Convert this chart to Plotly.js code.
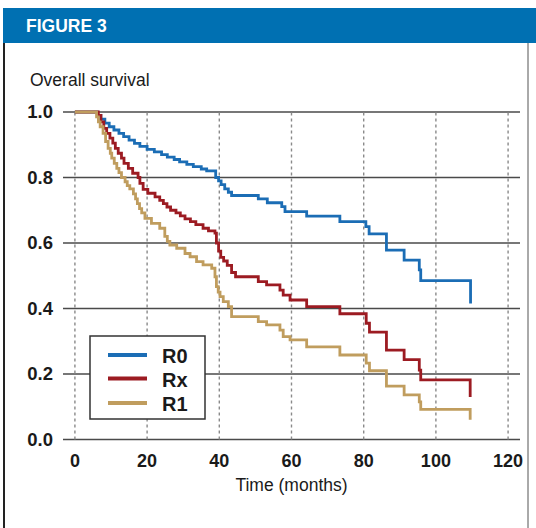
<!DOCTYPE html>
<html>
<head>
<meta charset="utf-8">
<script src="https://cdn.plot.ly/plotly-3.0.1.min.js"></script>
<style>html,body{margin:0;padding:0;background:#fff;}#chart{width:536px;height:528px;}</style>
</head>
<body>
<div id="chart"></div>
<script>
// ---- data ----
const seriesNames = ["R0", "Rx", "R1"];
const xTicks = [0, 20, 40, 60, 80, 100, 120];
const yTicks = [0.0, 0.2, 0.4, 0.6, 0.8, 1.0];
const yTickLabels = ["0.0", "0.2", "0.4", "0.6", "0.8", "1.0"];

const r0Time = [0, 6.2, 7.2, 8.3, 9.5, 10.8, 12.2, 13.5, 15.0, 16.5, 18.0, 20.0, 22.0, 24.0, 25.6, 27.5, 29.0, 31.0, 32.8, 35.0, 36.5, 39.0, 39.8, 40.5, 41.5, 42.5, 43.4, 50.8, 53.3, 57.3, 58.2, 64.2, 73.4, 80.6, 81.5, 86.3, 91.2, 95.4, 95.8, 109.6];
const r0Surv = [1.0, 0.99, 0.978, 0.966, 0.955, 0.945, 0.935, 0.925, 0.914, 0.904, 0.895, 0.886, 0.878, 0.870, 0.862, 0.855, 0.848, 0.840, 0.833, 0.826, 0.820, 0.800, 0.790, 0.778, 0.765, 0.755, 0.745, 0.735, 0.723, 0.711, 0.696, 0.682, 0.665, 0.650, 0.628, 0.578, 0.548, 0.518, 0.485, 0.415];

const rxTime = [0, 6.5, 7.2, 8.0, 8.8, 9.7, 10.5, 11.2, 12.0, 12.9, 13.6, 14.8, 16.0, 17.5, 18.0, 18.9, 20.2, 22.2, 23.5, 24.5, 25.5, 26.5, 28.0, 29.2, 30.5, 32.0, 33.5, 35.5, 37.0, 38.8, 39.2, 39.8, 40.4, 41.2, 42.2, 43.4, 44.5, 50.8, 53.1, 56.8, 57.7, 59.6, 64.2, 73.4, 80.7, 81.6, 86.3, 91.2, 95.4, 95.8, 109.5];
const rxSurv = [1.0, 0.99, 0.97, 0.95, 0.935, 0.92, 0.905, 0.889, 0.874, 0.859, 0.843, 0.828, 0.813, 0.80, 0.782, 0.764, 0.752, 0.741, 0.730, 0.720, 0.710, 0.700, 0.692, 0.683, 0.674, 0.665, 0.656, 0.645, 0.637, 0.630, 0.600, 0.575, 0.556, 0.545, 0.532, 0.510, 0.497, 0.482, 0.472, 0.456, 0.441, 0.426, 0.406, 0.384, 0.355, 0.328, 0.273, 0.244, 0.212, 0.182, 0.130];

const r1Time = [0, 6.0, 6.5, 7.0, 7.8, 8.5, 9.2, 9.8, 10.2, 10.9, 11.6, 12.2, 12.9, 13.9, 14.5, 15.2, 16.2, 16.8, 17.3, 17.9, 18.5, 19.4, 21.2, 23.5, 24.9, 25.6, 26.3, 28.2, 30.5, 31.9, 33.7, 35.5, 37.9, 38.8, 39.2, 39.7, 40.2, 41.1, 42.5, 43.4, 50.8, 53.1, 56.8, 57.7, 59.6, 64.2, 73.4, 80.7, 81.6, 86.3, 91.2, 95.4, 95.8, 109.5];
const r1Surv = [1.0, 0.985, 0.97, 0.955, 0.935, 0.91, 0.889, 0.874, 0.859, 0.843, 0.828, 0.815, 0.80, 0.787, 0.775, 0.765, 0.750, 0.735, 0.720, 0.705, 0.692, 0.675, 0.660, 0.645, 0.620, 0.605, 0.594, 0.584, 0.568, 0.558, 0.543, 0.533, 0.523, 0.497, 0.467, 0.450, 0.436, 0.421, 0.406, 0.375, 0.360, 0.350, 0.334, 0.314, 0.304, 0.283, 0.258, 0.233, 0.210, 0.163, 0.136, 0.115, 0.092, 0.060];

const seriesColors = ["#1b6db5", "#9c1b22", "#c09d5e"];

// ---- layout geometry helpers ----
const W = 536, H = 528;
const M = {l: 63, r: 16, t: 105, b: 82};
const PW = W - M.l - M.r, PH = H - M.t - M.b;
const px = v => (v - M.l) / PW;
const py = v => (H - M.b - v) / PH;

const FONT = "'Liberation Sans', Arial, Helvetica, sans-serif";
const TXT = '#1a1a1a';

const times = [r0Time, rxTime, r1Time];
const survs = [r0Surv, rxSurv, r1Surv];
const traces = seriesNames.map((n, i) => ({
  x: times[i], y: survs[i], name: n, type: 'scatter', mode: 'lines',
  line: {shape: 'hv', color: seriesColors[i], width: 2.8}, showlegend: false
}));

const shapes = [];
// horizontal grid lines
yTicks.forEach(v => shapes.push({type: 'line', xref: 'paper', yref: 'y', x0: 0, x1: 1, y0: v, y1: v,
  line: {color: '#4a4a4a', width: 1.7}, layer: 'below'}));
// vertical dotted lines
xTicks.forEach(v => shapes.push({type: 'line', xref: 'x', yref: 'y', x0: v, x1: v, y0: 0, y1: 1,
  line: {color: '#8a8a8a', width: 1.4, dash: 'dot'}, layer: 'below'}));
// header bar
shapes.push({type: 'rect', xref: 'paper', yref: 'paper', x0: px(3), x1: px(536), y0: py(43), y1: py(8),
  fillcolor: '#0070b2', line: {width: 0}});
// frame left / right
shapes.push({type: 'line', xref: 'paper', yref: 'paper', x0: px(4), x1: px(4), y0: py(43), y1: py(530),
  line: {color: '#222', width: 2}});
shapes.push({type: 'line', xref: 'paper', yref: 'paper', x0: px(528), x1: px(528), y0: py(43), y1: py(530),
  line: {color: '#555', width: 1}});

// legend key (box, swatches, labels)
const legBox = {x0: 90, x1: 205, y0: 336, y1: 419};
const legRows = [355, 378.5, 403];
shapes.push({type: 'rect', xref: 'paper', yref: 'paper', x0: px(legBox.x0), x1: px(legBox.x1),
  y0: py(legBox.y1), y1: py(legBox.y0), fillcolor: '#ffffff', line: {color: '#333', width: 1.5}});
const annotations = [
  {xref: 'paper', yref: 'paper', x: px(24), y: py(26), xanchor: 'left', yanchor: 'middle', showarrow: false,
   text: 'FIGURE 3', font: {family: FONT, size: 17.5, color: '#ffffff', weight: 'bold'}},
  {xref: 'paper', yref: 'paper', x: px(28), y: py(80), xanchor: 'left', yanchor: 'middle', showarrow: false,
   text: 'Overall survival', font: {family: FONT, size: 17.5, color: TXT}}
];
seriesNames.forEach((n, i) => {
  shapes.push({type: 'line', xref: 'paper', yref: 'paper', x0: px(108), x1: px(147), y0: py(legRows[i]), y1: py(legRows[i]),
    line: {color: seriesColors[i], width: 4}});
  annotations.push({xref: 'paper', yref: 'paper', x: px(160), y: py(legRows[i] + 1), xanchor: 'left', yanchor: 'middle',
    showarrow: false, text: n, font: {family: FONT, size: 20, color: TXT, weight: 'bold'}});
});

const layout = {
  width: W, height: H,
  margin: M,
  paper_bgcolor: '#ffffff', plot_bgcolor: '#ffffff',
  showlegend: false,
  xaxis: {
    range: [-3.3, 123.3], tickvals: xTicks, ticktext: xTicks.map(String),
    showgrid: false, zeroline: false, showline: false, ticks: '',
    tickfont: {family: FONT, size: 18, color: TXT, weight: 'bold'},
    ticklabelstandoff: 2,
    title: {text: 'Time (months)', font: {family: FONT, size: 17.5, color: TXT}, standoff: 8}
  },
  yaxis: {
    range: [-0.0198, 1.0214], tickvals: yTicks, ticktext: yTickLabels,
    showgrid: false, zeroline: false, showline: false, ticks: '',
    tickfont: {family: FONT, size: 18.5, color: TXT, weight: 'bold'},
    ticklabelstandoff: 9
  },
  shapes: shapes,
  annotations: annotations
};

Plotly.newPlot('chart', traces, layout, {staticPlot: true, displayModeBar: false});
</script>
</body>
</html>
